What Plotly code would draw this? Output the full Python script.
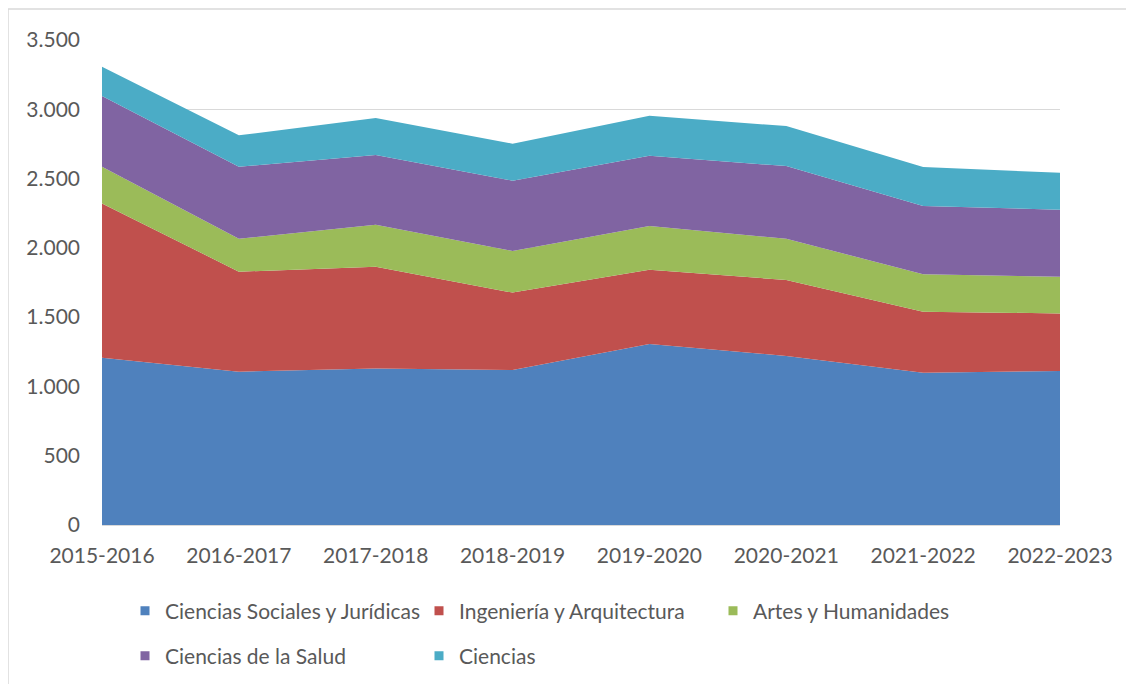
import plotly.graph_objects as go

years = ["2015-2016", "2016-2017", "2017-2018", "2018-2019",
         "2019-2020", "2020-2021", "2021-2022", "2022-2023"]

sociales = [1207, 1106, 1130, 1118, 1306, 1220, 1099, 1111]
ingenieria = [1114, 722, 734, 559, 536, 548, 440, 416]
artes = [264, 238, 302, 301, 316, 298, 270, 265]
salud = [511, 519, 505, 507, 506, 524, 493, 483]
ciencias = [211, 227, 266, 267, 289, 289, 281, 267]

series_names = ["Ciencias Sociales y Jurídicas", "Ingeniería y Arquitectura",
                "Artes y Humanidades", "Ciencias de la Salud", "Ciencias"]
series_values = [sociales, ingenieria, artes, salud, ciencias]
colors = ["#4F81BD", "#C0504D", "#9BBB59", "#8064A2", "#4BACC6"]
legend_ids = ["legend", "legend", "legend", "legend2", "legend2"]

FONT = "Lato"
GREY = "#595959"

fig = go.Figure()
for name, vals, col in zip(series_names, series_values, colors):
    fig.add_trace(go.Scatter(
        x=years, y=vals, name=name, mode="lines", stackgroup="one",
        line=dict(width=0, color=col), fillcolor=col, showlegend=False,
        hoverinfo="x+y+name"))

for name, col, lg in zip(series_names, colors, legend_ids):
    fig.add_trace(go.Scatter(
        x=[None], y=[None], name=name, mode="markers",
        marker=dict(symbol="square", size=9, color=col),
        legend=lg, showlegend=True))

# page body has an 8px margin; work in screen pixels and shift
OFF = 8
W, H = 1134 - OFF, 684 - OFF
L, R, T, B = 102 - OFF, 74, 40 - OFF, 159
pw = W - L - R
ph = H - T - B


def px2paper_x(px):
    return (px - OFF - L) / pw


def px2paper_y(py):
    return (H - B - (py - OFF)) / ph


legend_common = dict(
    orientation="h", font=dict(family=FONT, size=21, color=GREY),
    bgcolor="rgba(0,0,0,0)", entrywidth=249, entrywidthmode="pixels",
    xanchor="left", yanchor="middle", itemclick=False, itemdoubleclick=False,
    traceorder="normal")

fig.update_layout(
    width=W, height=H,
    margin=dict(l=L, r=R, t=T, b=B, autoexpand=False),
    paper_bgcolor="white", plot_bgcolor="white",
    separators=",.",
    font=dict(family=FONT, size=21, color=GREY),
    legend=dict(legend_common, x=px2paper_x(125), y=px2paper_y(611)),
    legend2=dict(legend_common, x=px2paper_x(125), y=px2paper_y(656)),
    xaxis=dict(type="category", range=[0, 7], showgrid=False,
               showline=True, linecolor="#d9d9d9", linewidth=1,
               ticks="", tickfont=dict(family=FONT, size=21, color=GREY),
               ticklabelstandoff=12, zeroline=False, fixedrange=True),
    yaxis=dict(range=[0, 3500], dtick=500, tickformat=",d",
               showgrid=True, gridcolor="#d9d9d9", gridwidth=1,
               zeroline=False, showline=False, ticks="",
               tickfont=dict(family=FONT, size=21, color=GREY),
               ticklabelstandoff=21, fixedrange=True),
    shapes=[
        dict(type="line", xref="paper", yref="paper",
             x0=px2paper_x(8), x1=px2paper_x(1134),
             y0=px2paper_y(9), y1=px2paper_y(9),
             line=dict(color="#d9d9d9", width=1.5)),
        dict(type="line", xref="paper", yref="paper",
             x0=px2paper_x(8), x1=px2paper_x(8),
             y0=px2paper_y(9), y1=px2paper_y(684),
             line=dict(color="#d9d9d9", width=1.5)),
    ],
)

fig.write_html("out.html")
